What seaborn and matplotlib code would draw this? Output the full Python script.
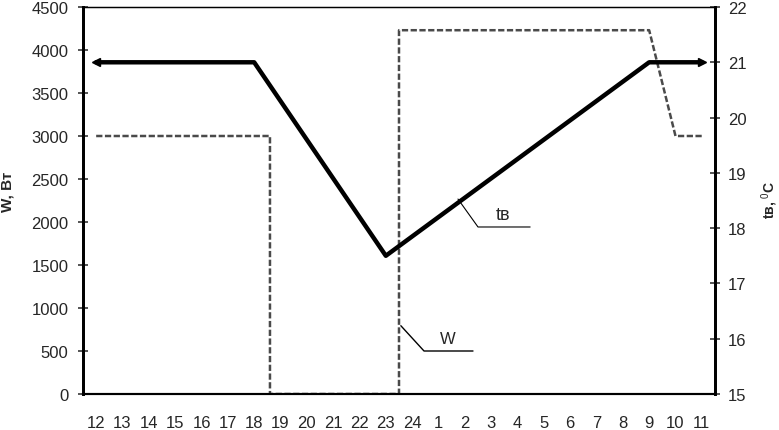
import numpy as np
import pandas as pd
import seaborn as sns
import matplotlib.pyplot as plt

# часы суток (категории по оси X)
hours = ['12', '13', '14', '15', '16', '17', '18', '19', '20', '21', '22', '23',
         '24', '1', '2', '3', '4', '5', '6', '7', '8', '9', '10', '11']

# температура внутреннего воздуха tв, °C
t_air = [21, 21, 21, 21, 21, 21, 21, 20.3, 19.6, 18.9, 18.2, 17.5,
         17.85, 18.2, 18.55, 18.9, 19.25, 19.6, 19.95, 20.3, 20.65, 21, 21, 21]

# мощность отопления W, Вт (ступенчатый график, позиции в долях часа)
w_pos = [0, 6.6, 6.6, 11.5, 11.5, 21, 22, 23]
w_power = [3000, 3000, 0, 0, 4230, 4230, 3000, 3000]

df_t = pd.DataFrame({'pos': np.arange(len(hours)), 'tв': t_air})
df_w = pd.DataFrame({'pos': w_pos, 'W': w_power})

sns.set_style("white")
plt.rcParams['font.family'] = ['Liberation Sans', 'DejaVu Sans']
plt.rcParams['mathtext.fontset'] = 'custom'
plt.rcParams['mathtext.rm'] = 'Liberation Sans'
plt.rcParams['mathtext.bf'] = 'Liberation Sans:bold'

fig = plt.figure(figsize=(7.79, 4.31), dpi=100)
ax = fig.add_axes([83 / 779, 36 / 431, 632 / 779, 387 / 431])
ax2 = ax.twinx()

# W - серая пунктирная линия
sns.lineplot(data=df_w, x='pos', y='W', ax=ax, color='#4a4a4a', lw=1.8,
             linestyle=(0, (2.5, 1)), sort=False, estimator=None)
# tв - жирная черная линия
sns.lineplot(data=df_t, x='pos', y='tв', ax=ax2, color='black', lw=3.2, estimator=None)
ax2.plot(df_t['pos'].iloc[:1], df_t['tв'].iloc[:1], marker='<', color='black', ms=6)
ax2.plot(df_t['pos'].iloc[-1:], df_t['tв'].iloc[-1:], marker='>', color='black', ms=6)

ax.set_xlim(-0.5, len(hours) - 0.5)
ax.set_ylim(0, 4500)
ax.set_yticks(np.arange(0, 4501, 500))
ax2.set_ylim(15, 22)
ax2.set_yticks(np.arange(15, 23, 1))

# деления между часами, подписи по центру
ax.set_xticks(np.arange(-0.5, len(hours), 1))
ax.set_xticklabels([])
ax.set_xticks(np.arange(len(hours)), minor=True)
ax.set_xticklabels(hours, minor=True)
ax.tick_params(axis='x', which='major', direction='inout', length=7, width=1.1)
ax.tick_params(axis='x', which='minor', length=0, pad=15, labelsize=12)
ax.tick_params(axis='y', direction='inout', length=7, width=1.1, pad=7, labelsize=12)
ax2.tick_params(axis='y', direction='inout', length=7, width=1.1, pad=6, labelsize=12)

for a in (ax, ax2):
    a.spines['left'].set_linewidth(2)
    a.spines['right'].set_linewidth(2)
    a.spines['bottom'].set_linewidth(1.5)
    a.spines['top'].set_linewidth(0.9)
    for s in a.spines.values():
        s.set_color('black')
    a.grid(False)

ax.set_xlabel('')
ax.set_ylabel('W, Вт', fontsize=11, fontweight='bold')
ax.yaxis.set_label_coords(-0.108, 0.525)
ax2.set_ylabel('tв, $^{0}$C', fontsize=10, fontweight='bold')
ax2.yaxis.set_label_coords(1.07, 0.504)

# выноски
ax.plot([13.74, 14.5, 16.48], [2267, 1942, 1942], color='black', lw=0.8)
ax.text(15.45, 2093, 'tв', fontsize=13, ha='center', va='center')
ax.plot([11.57, 12.45, 14.31], [794, 500, 500], color='black', lw=1.0)
ax.text(13.36, 640, 'W', fontsize=12, ha='center', va='center')

plt.savefig('out.png', dpi=100)
